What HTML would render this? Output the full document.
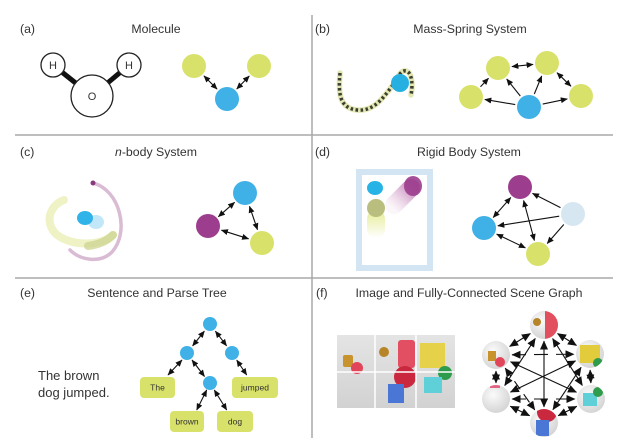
<!DOCTYPE html>
<html><head><meta charset="utf-8">
<style>
html,body{margin:0;padding:0;background:#fff;}
svg{display:block;}
text{font-family:"Liberation Sans",Arial,sans-serif;fill:#333;}
</style></head><body>
<svg width="640" height="447" viewBox="0 0 640 447" xmlns="http://www.w3.org/2000/svg">
<defs>
<marker id="ah" markerUnits="userSpaceOnUse" markerWidth="7" markerHeight="6" refX="6.5" refY="3" orient="auto-start-reverse">
<path d="M0,0 L7,3 L0,6 z" fill="#111"/>
</marker>
<marker id="ahb" markerUnits="userSpaceOnUse" markerWidth="9" markerHeight="8" refX="8.5" refY="4" orient="auto-start-reverse">
<path d="M0,0 L9,4 L0,8 z" fill="#111"/>
</marker>
<radialGradient id="gball" cx="40%" cy="35%" r="70%">
<stop offset="0" stop-color="#fbfbfb"/><stop offset="1" stop-color="#d2d2d2"/>
</radialGradient>
<linearGradient id="gimg" x1="0" y1="0" x2="0" y2="1">
<stop offset="0" stop-color="#e4e4e4"/><stop offset="1" stop-color="#d2d2d2"/>
</linearGradient>
<linearGradient id="gpt" gradientUnits="userSpaceOnUse" x1="413" y1="186" x2="392" y2="208">
<stop offset="0" stop-color="#b0589f" stop-opacity="0.75"/><stop offset="1" stop-color="#d8a8cf" stop-opacity="0.1"/>
</linearGradient>
<linearGradient id="gyt" x1="0" y1="1" x2="0" y2="0">
<stop offset="0" stop-color="#dfe77a" stop-opacity="0"/><stop offset="1" stop-color="#dfe77a" stop-opacity="0.8"/>
</linearGradient>
<clipPath id="cT"><circle cx="544" cy="325" r="14"/></clipPath>
<clipPath id="cUL"><circle cx="496" cy="355" r="14"/></clipPath>
<clipPath id="cUR"><circle cx="590" cy="354" r="14"/></clipPath>
<clipPath id="cLL"><circle cx="496" cy="399" r="14"/></clipPath>
<clipPath id="cLR"><circle cx="591" cy="399" r="14"/></clipPath>
<clipPath id="cB"><circle cx="544" cy="423" r="14"/></clipPath>
</defs>

<!-- dividers -->
<g stroke="#a8a8a8" stroke-width="1.5">
<line x1="15" y1="135" x2="613" y2="135"/>
<line x1="15" y1="278" x2="613" y2="278"/>
<line x1="312" y1="15" x2="312" y2="438"/>
</g>

<!-- titles -->
<g font-size="12.3">
<text x="20" y="33">(a)</text>
<text x="156" y="33" text-anchor="middle">Molecule</text>
<text x="315" y="33">(b)</text>
<text x="470" y="33" text-anchor="middle">Mass-Spring System</text>
<text x="20" y="156">(c)</text>
<text x="156" y="156" text-anchor="middle"><tspan font-style="italic">n</tspan>-body System</text>
<text x="315" y="156">(d)</text>
<text x="469" y="156" text-anchor="middle">Rigid Body System</text>
<text x="20" y="297">(e)</text>
<text x="157" y="297" text-anchor="middle">Sentence and Parse Tree</text>
<text x="316" y="297">(f)</text>
<text x="469" y="297" text-anchor="middle">Image and Fully-Connected Scene Graph</text>
</g>

<!-- (a) molecule -->
<g stroke="#111" stroke-width="5">
<line x1="53" y1="65" x2="92" y2="96"/>
<line x1="129" y1="65" x2="92" y2="96"/>
</g>
<g fill="#fff" stroke="#222" stroke-width="1.3">
<circle cx="53" cy="65" r="12"/>
<circle cx="129" cy="65" r="12"/>
<circle cx="92" cy="96" r="21"/>
</g>
<g font-size="11" text-anchor="middle">
<text x="53" y="69">H</text>
<text x="129" y="69">H</text>
<text x="92" y="100">O</text>
</g>
<!-- (a) graph -->
<circle cx="194" cy="66" r="12" fill="#d8e26a"/>
<circle cx="259" cy="66" r="12" fill="#d8e26a"/>
<circle cx="227" cy="99" r="12" fill="#3fb1e6"/>
<g stroke="#111" stroke-width="1.1" marker-start="url(#ah)" marker-end="url(#ah)">
<line x1="203.9" y1="75.9" x2="217.1" y2="89.1"/>
<line x1="249.3" y1="76" x2="236.7" y2="89"/>
</g>

<!-- (b) spring -->
<path d="M340,73 C338,95 340,108 357,110 C375,112 385,95 393,85 C398,78 400,70 406,71 C412,72 413,85 411,95" fill="none" stroke="#e4e7b4" stroke-width="5.5" stroke-linecap="round"/>
<path d="M340,73 C338,95 340,108 357,110 C375,112 385,95 393,85 C398,78 400,70 406,71 C412,72 413,85 411,95" fill="none" stroke="#3b4030" stroke-width="3.5" stroke-dasharray="2.5 2.5"/>
<circle cx="400" cy="83" r="9" fill="#26b0e2"/>
<!-- (b) graph -->
<g fill="#d8e26a">
<circle cx="498" cy="68" r="12"/>
<circle cx="547" cy="63" r="12"/>
<circle cx="471" cy="97" r="12"/>
<circle cx="581" cy="96" r="12"/>
</g>
<circle cx="529" cy="107" r="12" fill="#3fb1e6"/>
<g stroke="#111" stroke-width="1.1">
<line x1="511.9" y1="66.6" x2="533.1" y2="64.4" marker-start="url(#ah)" marker-end="url(#ah)"/>
<line x1="557" y1="72.7" x2="571" y2="86.3" marker-start="url(#ah)" marker-end="url(#ah)"/>
<line x1="515.2" y1="104.6" x2="484.8" y2="99.4" marker-end="url(#ah)"/>
<line x1="520.3" y1="96" x2="506.7" y2="79" marker-end="url(#ah)"/>
<line x1="534.3" y1="94" x2="541.7" y2="76" marker-end="url(#ah)"/>
<line x1="542.7" y1="104.1" x2="567.3" y2="98.9" marker-end="url(#ah)"/>
<line x1="480.5" y1="86.8" x2="488.5" y2="78.2" marker-end="url(#ah)"/>
</g>

<!-- (c) trajectories -->
<path d="M93,183 C120,190 130,232 112,252 C100,264 80,260 70,250" fill="none" stroke="#c08fb5" stroke-width="3.5" stroke-opacity="0.6" stroke-linecap="round"/>
<circle cx="93" cy="183" r="2.5" fill="#8a3a7c"/>
<path d="M113,235 C100,247 70,246 56,234 C44,222 50,205 64,200" fill="none" stroke="#e3e99e" stroke-width="8" stroke-opacity="0.6" stroke-linecap="round"/>
<path d="M113,235 C106,242 96,245 88,246" fill="none" stroke="#cbd18a" stroke-width="8" stroke-opacity="0.7" stroke-linecap="round"/>
<ellipse cx="96" cy="222" rx="8" ry="7" fill="#8fd3f2" opacity="0.55"/>
<ellipse cx="85" cy="218" rx="8" ry="7" fill="#30b3e8"/>
<!-- (c) graph -->
<circle cx="245" cy="193" r="12" fill="#3fb1e6"/>
<circle cx="208" cy="226" r="12" fill="#9c3d8e"/>
<circle cx="262" cy="243" r="12" fill="#d8e26a"/>
<g stroke="#111" stroke-width="1.1" marker-start="url(#ah)" marker-end="url(#ah)">
<line x1="234.6" y1="202.3" x2="218.4" y2="216.7"/>
<line x1="249.5" y1="206.3" x2="257.5" y2="229.7"/>
<line x1="221.4" y1="230.2" x2="248.6" y2="238.8"/>
</g>

<!-- (d) box -->
<rect x="359" y="172" width="71" height="96" fill="#fff" stroke="#d3e5f3" stroke-width="6"/>
<line x1="411" y1="188" x2="394" y2="205" stroke="url(#gpt)" stroke-width="18" stroke-linecap="round"/>
<ellipse cx="413" cy="186" rx="9" ry="10" fill="#9c3d8e" opacity="0.9"/>
<rect x="367" y="210" width="18" height="28" rx="9" fill="url(#gyt)"/>
<circle cx="376" cy="208" r="9" fill="#b9bd7e"/>
<ellipse cx="375" cy="188" rx="8" ry="7" fill="#28b3e6"/>
<!-- (d) graph -->
<circle cx="520" cy="187" r="12" fill="#9c3d8e"/>
<circle cx="573" cy="214" r="12" fill="#d7e7f1"/>
<circle cx="484" cy="228" r="12" fill="#3fb1e6"/>
<circle cx="538" cy="254" r="12" fill="#d8e26a"/>
<g stroke="#111" stroke-width="1.1">
<line x1="510.8" y1="197.5" x2="493.2" y2="217.5" marker-start="url(#ah)" marker-end="url(#ah)"/>
<line x1="523.6" y1="200.5" x2="534.4" y2="240.5" marker-start="url(#ah)" marker-end="url(#ah)"/>
<line x1="560.5" y1="207.6" x2="532.5" y2="193.4" marker-end="url(#ah)"/>
<line x1="559.2" y1="216.2" x2="497.8" y2="225.8" marker-end="url(#ah)"/>
<line x1="563.8" y1="224.5" x2="547.2" y2="243.5" marker-end="url(#ah)"/>
<line x1="496.6" y1="234.1" x2="525.4" y2="247.9" marker-start="url(#ah)" marker-end="url(#ah)"/>
</g>

<!-- (e) sentence -->
<g font-size="13">
<text x="38" y="380">The brown</text>
<text x="38" y="397">dog jumped.</text>
</g>
<!-- (e) tree -->
<g fill="#d8e26a">
<rect x="140" y="377" width="35" height="21" rx="4"/>
<rect x="232" y="377" width="46" height="21" rx="4"/>
<rect x="170" y="411" width="34" height="21" rx="4"/>
<rect x="217" y="411" width="36" height="21" rx="4"/>
</g>
<g font-size="8.5" text-anchor="middle">
<text x="157.5" y="390.5">The</text>
<text x="255" y="390.5">jumped</text>
<text x="187" y="424.5">brown</text>
<text x="235" y="424.5">dog</text>
</g>
<g fill="#3fb1e6">
<circle cx="210" cy="324" r="7"/>
<circle cx="187" cy="353" r="7"/>
<circle cx="232" cy="353" r="7"/>
<circle cx="210" cy="383" r="7"/>
</g>
<g stroke="#111" stroke-width="1.1" marker-start="url(#ah)" marker-end="url(#ah)">
<line x1="204.4" y1="331.1" x2="192.6" y2="345.9"/>
<line x1="215.4" y1="331.2" x2="226.6" y2="345.8"/>
<line x1="182" y1="360" x2="168" y2="375"/>
<line x1="192" y1="360" x2="204.5" y2="376.5"/>
<line x1="236.7" y1="360" x2="246.7" y2="375"/>
<line x1="206.7" y1="390" x2="196.7" y2="410"/>
<line x1="214.3" y1="390" x2="226.7" y2="410"/>
</g>

<!-- (f) image grid -->
<rect x="337" y="335" width="118" height="73" fill="url(#gimg)"/>
<rect x="343" y="355" width="10" height="12" rx="2" fill="#c8932c"/>
<circle cx="357" cy="368" r="6" fill="#e0455a"/>
<circle cx="384" cy="352" r="5" fill="#b88428"/>
<rect x="398" y="340" width="17" height="28" rx="3" fill="#e34f62"/>
<circle cx="405" cy="377" r="11" fill="#c9283f"/>
<rect x="420" y="343" width="25" height="25" fill="#e6d24a"/>
<circle cx="445" cy="373" r="7" fill="#2e9c4c"/>
<rect x="424" y="377" width="18" height="16" fill="#5fcfd8"/>
<rect x="388" y="384" width="16" height="19" fill="#4a76d6"/>
<g stroke="#fff" stroke-width="1.5">
<line x1="375" y1="335" x2="375" y2="408"/>
<line x1="416" y1="335" x2="416" y2="408"/>
<line x1="337" y1="372" x2="455" y2="372"/>
</g>

<!-- (f) graph nodes -->
<g fill="url(#gball)">
<circle cx="544" cy="325" r="14"/>
<circle cx="496" cy="355" r="14"/>
<circle cx="590" cy="354" r="14"/>
<circle cx="496" cy="399" r="14"/>
<circle cx="591" cy="399" r="14"/>
<circle cx="544" cy="423" r="14"/>
</g>
<g clip-path="url(#cT)">
<rect x="545" y="311" width="14" height="28" fill="#e2505f"/>
<circle cx="537" cy="322" r="4" fill="#b88428"/>
</g>
<g clip-path="url(#cUL)">
<rect x="488" y="351" width="8" height="10" fill="#c8932c"/>
<circle cx="500" cy="362" r="5" fill="#e0455a"/>
</g>
<g clip-path="url(#cUR)">
<rect x="580" y="345" width="20" height="18" fill="#e2cc3c"/>
<circle cx="598" cy="363" r="5" fill="#2e9c4c"/>
</g>
<g clip-path="url(#cLL)">
<rect x="490" y="385" width="10" height="3" fill="#e0456a" opacity="0.8"/>
</g>
<g clip-path="url(#cLR)">
<rect x="583" y="393" width="14" height="13" fill="#5fcfd8"/>
<circle cx="598" cy="392" r="5" fill="#2e9c4c"/>
</g>
<g clip-path="url(#cB)">
<circle cx="547" cy="412" r="10" fill="#c9283f"/>
<rect x="536" y="420" width="13" height="16" fill="#4a76d6"/>
</g>
<!-- (f) edges -->
<g stroke="#111" stroke-width="1.1" marker-start="url(#ahb)" marker-end="url(#ahb)">
<line x1="530.4" y1="333.5" x2="509.6" y2="346.5"/>
<line x1="557.5" y1="333.5" x2="576.5" y2="345.5"/>
<line x1="535.3" y1="338.4" x2="504.7" y2="385.6"/>
<line x1="552.6" y1="338.5" x2="582.4" y2="385.5"/>
<line x1="544" y1="341" x2="544" y2="407"/>
<line x1="512" y1="354.8" x2="574" y2="354.2" stroke-dasharray="14 8"/>
<line x1="496" y1="371" x2="496" y2="383"/>
<line x1="510.5" y1="361.7" x2="576.5" y2="392.3"/>
<line x1="505.2" y1="368.1" x2="534.8" y2="409.9" stroke-dasharray="10 6"/>
<line x1="575.6" y1="360.9" x2="510.4" y2="392.1"/>
<line x1="590.1" y1="370" x2="590.9" y2="383"/>
<line x1="581.1" y1="367.3" x2="552.9" y2="409.7"/>
<line x1="512" y1="399" x2="575" y2="399" stroke-dasharray="14 8"/>
<line x1="510.3" y1="406.2" x2="529.7" y2="415.8"/>
<line x1="576.8" y1="406.3" x2="558.2" y2="415.7"/>
</g>
</svg>
</body></html>
